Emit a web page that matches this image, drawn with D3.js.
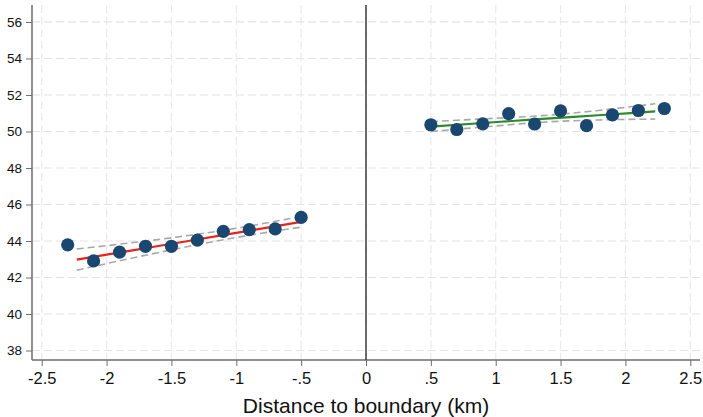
<!DOCTYPE html>
<html><head><meta charset="utf-8">
<script src="https://cdn.jsdelivr.net/npm/d3@7"></script>
<style>
html,body{margin:0;padding:0;background:#fff;}
svg{display:block;font-family:"Liberation Sans",Arial,sans-serif;}
</style></head>
<body><svg id="chart" width="703" height="417"></svg>
<script>
const xTicks = [-2.5,-2,-1.5,-1,-0.5,0,0.5,1,1.5,2,2.5];
const xTickLabels = ["-2.5","-2","-1.5","-1","-.5","0",".5","1","1.5","2","2.5"];
const yTicks = [38,40,42,44,46,48,50,52,54,56];
const xTitle = "Distance to boundary (km)";

const leftBinX = [-2.3,-2.1,-1.9,-1.7,-1.5,-1.3,-1.1,-0.9,-0.7,-0.5];
const leftBinY = [43.79,42.91,43.39,43.71,43.71,44.05,44.53,44.62,44.66,45.29];
const rightBinX = [0.5,0.7,0.9,1.1,1.3,1.5,1.7,1.9,2.1,2.3];
const rightBinY = [50.37,50.11,50.42,50.98,50.41,51.13,50.32,50.91,51.15,51.26];

const leftFitX = [-2.23,-1.8,-1.37,-0.93,-0.5];
const leftFitY = [42.98,43.49,44.00,44.53,45.05];
const leftCIUpper = [43.56,43.91,44.30,44.78,45.35];
const leftCILower = [42.40,43.07,43.70,44.28,44.76];

const rightFitX = [0.5,0.93,1.36,1.79,2.23];
const rightFitY = [50.27,50.48,50.69,50.89,51.10];
const rightCIUpper = [50.54,50.70,50.87,51.15,51.52];
const rightCILower = [50.00,50.26,50.51,50.63,50.68];

const svg = d3.select("#chart");
const x = d3.scaleLinear().domain([-2.575,2.575]).range([32,700]);
const y = d3.scaleLinear().domain([37.48,56.93]).range([360,5]);

// gridlines
const grid = svg.append("g");
grid.selectAll("line.h").data(yTicks).enter().append("line")
  .attr("x1",32).attr("x2",700).attr("y1",d=>y(d)).attr("y2",d=>y(d))
  .attr("stroke","#e3e3e3").attr("stroke-width",1.2).attr("stroke-dasharray","8,4");
grid.selectAll("line.v").data(xTicks).enter().append("line")
  .attr("y1",5).attr("y2",360).attr("x1",d=>x(d)).attr("x2",d=>x(d))
  .attr("stroke","#eaeaea").attr("stroke-width",1.2).attr("stroke-dasharray","8,4");

// y axis
const yAxis = d3.axisLeft(y).tickValues(yTicks).tickSize(6).tickPadding(4).tickFormat(d3.format("d"));
const gy = svg.append("g").attr("transform","translate(32,0)").call(yAxis);
gy.select(".domain").attr("stroke","#6e6e6e").attr("stroke-width",1.5).attr("d","M0,5V360");
gy.selectAll(".tick line").attr("stroke","#6e6e6e");
gy.selectAll(".tick text").attr("font-size",13.5).attr("fill","#111").attr("font-family","Liberation Sans, Arial, sans-serif");

// x axis
const xAxis = d3.axisBottom(x).tickValues(xTicks).tickSize(6).tickPadding(6)
  .tickFormat((d,i)=>xTickLabels[i]);
const gx = svg.append("g").attr("transform","translate(0,360)").call(xAxis);
gx.select(".domain").attr("stroke","#6e6e6e").attr("stroke-width",1.5).attr("d","M32,0H700");
gx.selectAll(".tick line").attr("stroke","#6e6e6e");
gx.selectAll(".tick text").attr("font-size",16.5).attr("fill","#111").attr("font-family","Liberation Sans, Arial, sans-serif");

svg.append("text").attr("x",x(0)).attr("y",413).attr("text-anchor","middle")
  .attr("font-size",21).attr("fill","#111").text(xTitle);

// boundary line
svg.append("line").attr("x1",x(0)).attr("x2",x(0)).attr("y1",5).attr("y2",360)
  .attr("stroke","#3c3c3c").attr("stroke-width",1.5);

const line = d3.line().x(d=>x(d[0])).y(d=>y(d[1])).curve(d3.curveMonotoneX);
function drawFit(fx, fy, up, lo, col){
  [up,lo].forEach(arr=>{
    svg.append("path").datum(fx.map((v,i)=>[v,arr[i]])).attr("d",line)
      .attr("fill","none").attr("stroke","#a8a8a8").attr("stroke-width",1.6).attr("stroke-dasharray","7,4");
  });
  svg.append("path").datum(fx.map((v,i)=>[v,fy[i]])).attr("d",line)
    .attr("fill","none").attr("stroke",col).attr("stroke-width",2.2);
}
drawFit(leftFitX,leftFitY,leftCIUpper,leftCILower,"#e8231c");
drawFit(rightFitX,rightFitY,rightCIUpper,rightCILower,"#2b8a2b");

const pts = leftBinX.map((v,i)=>[v,leftBinY[i]]).concat(rightBinX.map((v,i)=>[v,rightBinY[i]]));
svg.append("g").selectAll("circle").data(pts).enter().append("circle")
  .attr("cx",d=>x(d[0])).attr("cy",d=>y(d[1])).attr("r",6.6).attr("fill","#1a476f");
</script></body></html>
